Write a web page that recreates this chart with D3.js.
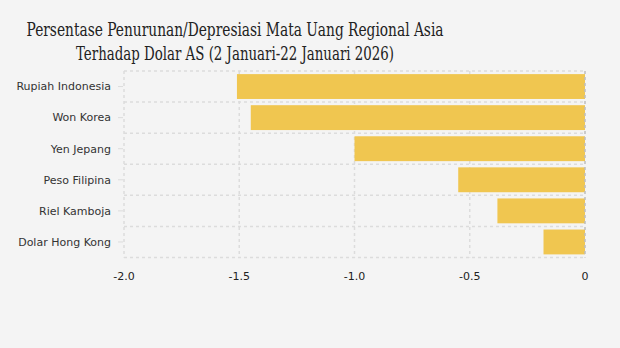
<!DOCTYPE html>
<html><head><meta charset="utf-8">
<script src="https://cdn.jsdelivr.net/npm/d3@7"></script>
<style>
html,body{margin:0;padding:0;background:#f4f4f4;}
svg{display:block;}
</style></head>
<body>
<svg id="chart" width="620" height="348"></svg>
<script>
const categories = ["Rupiah Indonesia","Won Korea","Yen Jepang","Peso Filipina","Riel Kamboja","Dolar Hong Kong"];
const values = [-1.51,-1.45,-1.0,-0.55,-0.38,-0.18];
const xTicks = [-2.0,-1.5,-1.0,-0.5,0];
const xTickLabels = ["-2.0","-1.5","-1.0","-0.5","0"];
const titleLines = ["Persentase Penurunan/Depresiasi Mata Uang Regional Asia","Terhadap Dolar AS (2 Januari-22 Januari 2026)"];

(function(){
const svg = d3.select("#chart");
svg.append("rect").attr("width",620).attr("height",348).attr("fill","#f4f4f4");

const pLeft=124, pRight=585, pTop=71, pBottom=257.5;
const x = d3.scaleLinear().domain([-2,0]).range([pLeft,pRight]);
const y = d3.scaleBand().domain(categories).range([pTop,pBottom]).paddingInner(0.2).paddingOuter(0.1);

const g = svg.append("g");
const step = (pBottom-pTop)/categories.length;
const hLines = d3.range(categories.length+1).map(i=>pTop+i*step);
g.selectAll("line.h").data(hLines).join("line")
 .attr("x1",pLeft).attr("x2",pRight).attr("y1",d=>d).attr("y2",d=>d)
 .attr("stroke","#dcdcdc").attr("stroke-width",1.5).attr("stroke-dasharray","3,3");
g.selectAll("line.v").data(xTicks.slice(0,-1)).join("line")
 .attr("x1",d=>x(d)).attr("x2",d=>x(d)).attr("y1",pTop).attr("y2",pBottom)
 .attr("stroke","#dcdcdc").attr("stroke-width",1.5).attr("stroke-dasharray","3,3");

g.selectAll("rect.bar").data(values).join("rect")
 .attr("x",d=>x(d)).attr("width",d=>x(0)-x(d))
 .attr("y",(d,i)=>y(categories[i])).attr("height",y.bandwidth())
 .attr("fill","#f0c650");

g.append("line").attr("x1",x(0)).attr("x2",x(0)).attr("y1",pTop).attr("y2",pBottom)
 .attr("stroke","#bdbdbd").attr("stroke-width",1.5).attr("stroke-dasharray","3,3");

categories.forEach((c,i)=>{
  const cy = y(c)+y.bandwidth()/2;
  g.append("line").attr("x1",118).attr("x2",123).attr("y1",cy).attr("y2",cy).attr("stroke","#dcdcdc").attr("stroke-width",1);
  g.append("text").attr("x",111).attr("y",cy).attr("dy","0.35em").attr("text-anchor","end")
   .attr("font-family","DejaVu Sans, Verdana, sans-serif").attr("font-size",11).attr("fill","#333").text(c);
});

xTicks.forEach((t,i)=>{
  g.append("text").attr("x",x(t)).attr("y",276).attr("dy","0.35em").attr("text-anchor","middle")
   .attr("font-family","DejaVu Sans, Verdana, sans-serif").attr("font-size",11).attr("fill","#222").text(xTickLabels[i]);
});

const titleWidths = [417, 318];
titleLines.forEach((t,i)=>{
  svg.append("text").attr("x",235).attr("y",36+i*23.5).attr("text-anchor","middle")
   .attr("font-family","DejaVu Serif, serif").attr("font-size",18).attr("fill","#222")
   .attr("textLength",titleWidths[i]).attr("lengthAdjust","spacingAndGlyphs").text(t);
});
})();
</script>
</body></html>
